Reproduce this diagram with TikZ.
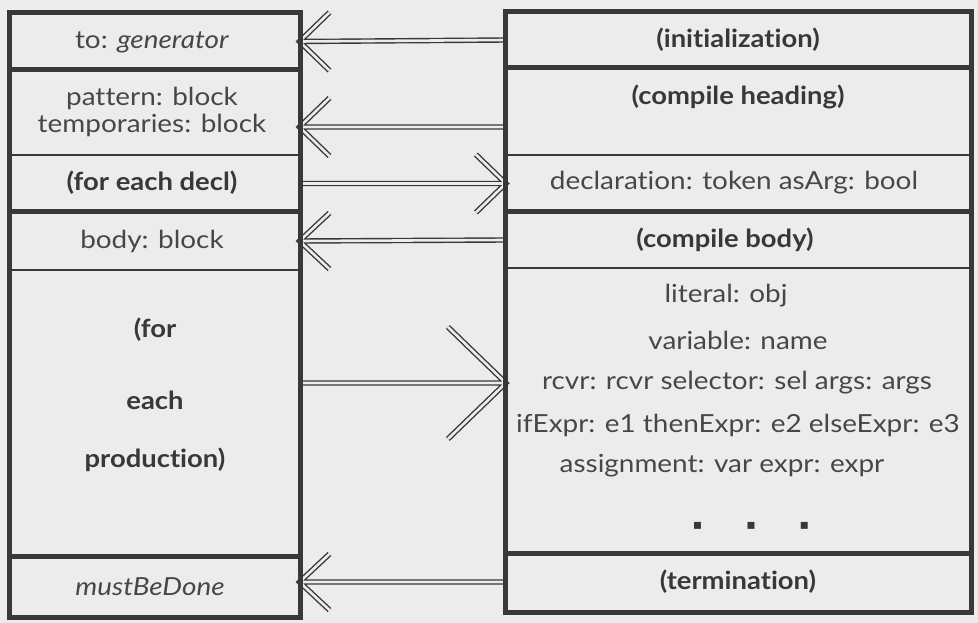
\documentclass[tikz,border=0pt]{standalone}
\usepackage{fontspec}
\setmainfont{Lato}[Ligatures=NoCommon]
\newfontfamily\plainfont{Lato}[FakeStretch=1.12, Ligatures=NoCommon]
\newfontfamily\boldfont{Lato Bold}[FakeStretch=1.1, Ligatures=NoCommon]
\newfontfamily\symfont{DejaVu Sans}
\usetikzlibrary{calc}
\definecolor{ink}{HTML}{383838}
\definecolor{txt}{HTML}{474747}
\definecolor{paper}{HTML}{ECECEC}
\begin{document}
\begin{tikzpicture}[x=1bp,y=-1bp,
  thickline/.style={draw=ink, line width=5bp},
  thinline/.style={draw=ink, line width=2.5bp},
  lbl/.style={text=txt, font=\plainfont\fontsize{25}{28}\selectfont, inner sep=0pt, anchor=center},
  blbl/.style={text=ink, font=\boldfont\fontsize{25}{28}\selectfont, inner sep=0pt, anchor=center},
  row/.style={draw=none, inner sep=0pt, outer sep=0pt},
  dbl/.style={draw=ink, double=paper, double distance=2.6bp, line width=1.4bp, line join=miter},
]
\useasboundingbox[fill=paper] (0,0) rectangle (978,623);

% ---------- row nodes (geometry) ----------
\node[row, minimum width=291, minimum height=57]  (l1) at (154.5,41.5) {};
\node[row, minimum width=291, minimum height=85]  (l2) at (154.5,112.5) {};
\node[row, minimum width=291, minimum height=57]  (l3) at (154.5,183.5) {};
\node[row, minimum width=291, minimum height=58]  (l4) at (154.5,241) {};
\node[row, minimum width=291, minimum height=286] (l5) at (154.5,413) {};
\node[row, minimum width=291, minimum height=61]  (l6) at (154.5,586.5) {};

\node[row, minimum width=466, minimum height=56]  (r1) at (738,40) {};
\node[row, minimum width=466, minimum height=87]  (r2) at (738,111.5) {};
\node[row, minimum width=466, minimum height=57]  (r3) at (738,183.5) {};
\node[row, minimum width=466, minimum height=56]  (r4) at (738,240) {};
\node[row, minimum width=466, minimum height=285] (r5) at (738,410.5) {};
\node[row, minimum width=466, minimum height=59]  (r6) at (738,582.5) {};

% ---------- connectors ----------
\draw[dbl] (r1.west) -- (l1.east) ++(30,-29) -- (l1.east) -- ++(30,29);
\draw[dbl] (r2.west |- 0,127) -- (l2.east |- 0,127) ++(30,-29) -- (l2.east |- 0,127) -- ++(30,29);
\draw[dbl] (l3.east) -- (r3.west) ++(-30,-29) -- (r3.west) -- ++(-30,29);
\draw[dbl] (r4.west) -- (l4.east) ++(30,-28) -- (l4.east) -- ++(30,28);
\draw[dbl] (l5.east |- 0,383) -- (r5.west |- 0,383) ++(-58,-56) -- (r5.west |- 0,383) -- ++(-58,56);
\draw[dbl] (r6.west |- 0,582) -- (l6.east |- 0,582) ++(30,-28) -- (l6.east |- 0,582) -- ++(30,28);

% ---------- frames ----------
\draw[thickline] (9,13) rectangle (300,617);
\draw[thickline] (9,70) -- (300,70);
\draw[thinline]  (9,155) -- (300,155);
\draw[thickline] (9,212) -- (300,212);
\draw[thinline]  (9,270) -- (300,270);
\draw[thickline] (9,556) -- (300,556);

\draw[thickline] (505,12) rectangle (971,612);
\draw[thickline] (505,68) -- (971,68);
\draw[thinline]  (505,155) -- (971,155);
\draw[thickline] (505,212) -- (971,212);
\draw[thinline]  (505,268) -- (971,268);
\draw[thickline] (505,553) -- (971,553);

% ---------- texts, left ----------
\node[lbl]  (tl1)  at (152,42)  {to: \textit{generator}};
\node[lbl]  (tl2a) at (152,98)  {pattern: block};
\node[lbl]  (tl2b) at (152,125) {temporaries: block};
\node[blbl] (tl3)  at (152,183) {(for each decl)};
\node[lbl]  (tl4)  at (152,241) {body: block};
\node[blbl] (tl5a) at (155,330) {(for};
\node[blbl] (tl5b) at (155,400) {each};
\node[blbl] (tl5c) at (155,460) {production)};
\node[lbl]  (tl6)  at (150,587) {\textit{mustBeDone}};

% ---------- texts, right ----------
\node[blbl] (tr1)  at (738,40)  {(initialization)};
\node[blbl] (tr2)  at (738,97)  {(compile heading)};
\node[lbl]  (tr3)  at (734,183) {declaration: token asArg: bool};
\node[blbl] (tr4)  at (725,240) {(compile body)};
\node[lbl]  (tr5a) at (726,296) {literal: obj};
\node[lbl]  (tr5b) at (738,340) {variable: name};
\node[lbl]  (tr5c) at (737,383) {rcvr: rcvr selector: sel args: args};
\node[lbl]  (tr5d) at (738,425) {ifExpr: e1 thenExpr: e2 elseExpr: e3};
\node[lbl]  (tr5e) at (722,466) {assignment: var expr: expr};
\node[text=ink, inner sep=0pt, font=\symfont\fontsize{14}{16}\selectfont] (tr5f) at (751,526) {▪\hspace{44bp}▪\hspace{44bp}▪};
\node[blbl] (tr6)  at (738,582) {(termination)};
\end{tikzpicture}
\end{document}
